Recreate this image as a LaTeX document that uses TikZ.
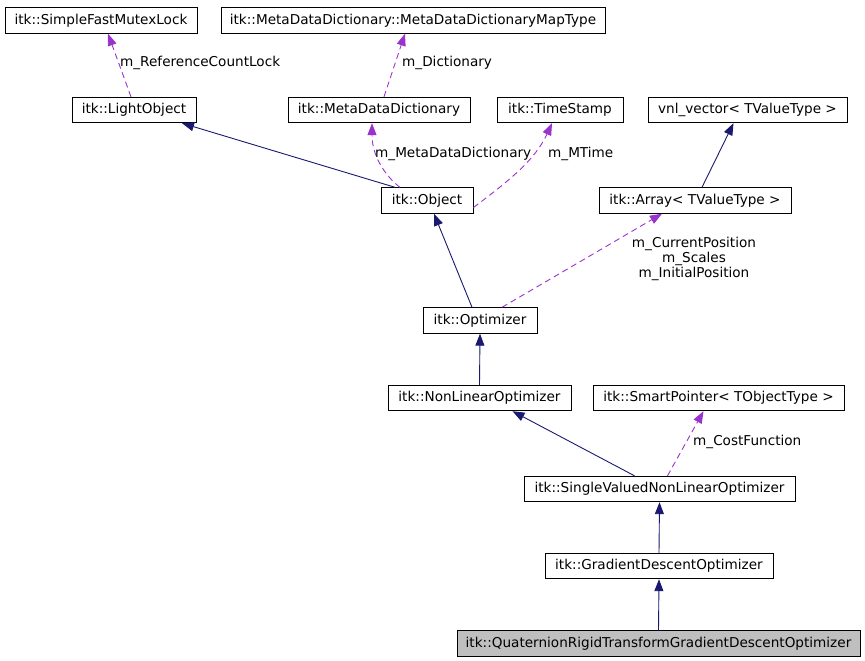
\documentclass[tikz,border=0pt]{standalone}
\usepackage{fontspec}
\setmainfont{DejaVu Sans}
\usetikzlibrary{arrows.meta,calc}
\definecolor{inh}{HTML}{191970}
\definecolor{use}{HTML}{9A32CD}
\begin{document}
\begin{tikzpicture}[x=1pt,y=-1pt,
  cls/.style={draw=black,line width=0.9pt,fill=white,inner sep=0pt,minimum height=25.5pt,font=\fontsize{13.6}{15}\selectfont},
  inhedge/.style={draw=inh,line width=0.9pt,-{Triangle[length=12pt,width=9pt]}},
  useedge/.style={draw=use,line width=0.9pt,dash pattern=on 6pt off 4pt,-{Triangle[length=12pt,width=9pt]}},
  lbl/.style={inner sep=0pt,font=\fontsize{13.6}{15}\selectfont,anchor=west}]
\useasboundingbox (0,0) rectangle (865,661);
\node[cls,minimum width=192pt] (mutex) at (101,20.5) {itk::SimpleFastMutexLock};
\node[cls,minimum width=384pt] (maptype) at (413,20.5) {itk::MetaDataDictionary::MetaDataDictionaryMapType};
\node[cls,minimum width=124pt] (light) at (134,110) {itk::LightObject};
\node[cls,minimum width=182pt] (mdd) at (379,110) {itk::MetaDataDictionary};
\node[cls,minimum width=126pt] (ts) at (560,110) {itk::TimeStamp};
\node[cls,minimum width=199pt] (vnl) at (747.5,110) {vnl\_vector< TValueType >};
\node[cls,minimum width=92pt] (obj) at (427,200.5) {itk::Object};
\node[cls,minimum width=192pt] (arr) at (695,200.5) {itk::Array< TValueType >};
\node[cls,minimum width=114pt] (opt) at (480,320.5) {itk::Optimizer};
\node[cls,minimum width=183pt] (nlo) at (479.5,398) {itk::NonLinearOptimizer};
\node[cls,minimum width=251pt] (sp) at (718.5,398) {itk::SmartPointer< TObjectType >};
\node[cls,minimum width=271pt] (svo) at (659.5,489) {itk::SingleValuedNonLinearOptimizer};
\node[cls,minimum width=228pt] (gdo) at (659,566) {itk::GradientDescentOptimizer};
\node[cls,minimum width=403pt,fill={rgb,255:red,191;green,191;blue,191}] (qrt) at (658.5,643.5) {itk::QuaternionRigidTransformGradientDescentOptimizer};
% edges
\draw[useedge] ([xshift=-3pt]light.north) -- ([xshift=7pt]mutex.south);
\node[lbl] (l1) at (120,63) {m\_ReferenceCountLock};
\draw[useedge] ([xshift=5pt]mdd.north) -- ([xshift=-8pt]maptype.south);
\node[lbl] (l2) at (402,63) {m\_Dictionary};
\draw[inhedge] ([xshift=-32pt]obj.north) -- ([xshift=48pt]light.south);
\draw[useedge] ([xshift=-27pt]obj.north) .. controls (390,180) and (372,160) .. ([xshift=-7pt]mdd.south);
\node[lbl] (l3) at (375,154) {m\_MetaDataDictionary};
\draw[useedge] ([yshift=-7pt]obj.east) .. controls (510,180) and (535,160) .. ([xshift=-8pt]ts.south);
\node[lbl] (l4) at (548,154) {m\_MTime};
\draw[inhedge] ([xshift=7pt]arr.north) -- ([xshift=-14pt]vnl.south);
\draw[inhedge] ([xshift=-8pt]opt.north) -- ([xshift=7pt]obj.south);
\draw[useedge] ([xshift=22pt]opt.north) -- ([xshift=-33pt]arr.south);
\node[align=center,inner sep=0pt,font=\fontsize{13.6}{15}\selectfont] (l5) at (694,259) {m\_CurrentPosition\\m\_Scales\\m\_InitialPosition};
\draw[inhedge] (nlo.north) -- (opt.south);
\draw[inhedge] ([xshift=-25pt]svo.north) -- ([xshift=33pt]nlo.south);
\draw[useedge] ([xshift=8pt]svo.north) -- ([xshift=-15pt]sp.south);
\node[lbl] (l6) at (693,442) {m\_CostFunction};
\draw[inhedge] (gdo.north) -- (svo.south);
\draw[inhedge] (qrt.north) -- (gdo.south);
\end{tikzpicture}
\end{document}
